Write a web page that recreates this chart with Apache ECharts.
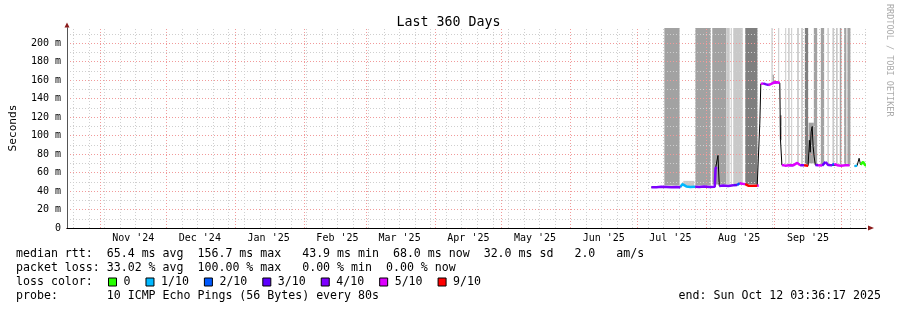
<!DOCTYPE html>
<html><head><meta charset="utf-8">
<script src="https://cdn.jsdelivr.net/npm/echarts@6/dist/echarts.min.js"></script>
<style>html,body{margin:0;padding:0;background:#fff}#c{width:897px;height:310px}</style>
</head><body><div id="c"></div>
<script>
const FONT = 'DejaVu Sans Mono';
const titleText = 'Last 360 Days';
const rangeStart = '2024-10-17 03:36:17';
const rangeEnd = '2025-10-12 03:36:17';
const yMax = 216.5;
const yStep = 10;
const yLabelStep = 20;

const monthStarts = ['2024-11-01','2024-12-01','2025-01-01','2025-02-01','2025-03-01','2025-04-01','2025-05-01','2025-06-01','2025-07-01','2025-08-01','2025-09-01','2025-10-01'];
const monthLabelDates = ['2024-11-16','2024-12-16','2025-01-16','2025-02-16','2025-03-16','2025-04-16','2025-05-16','2025-06-16','2025-07-16','2025-08-16','2025-09-16'];
const monthLabels = ["Nov '24","Dec '24","Jan '25","Feb '25","Mar '25","Apr '25","May '25","Jun '25","Jul '25","Aug '25","Sep '25"];
const weekAnchor = '2024-10-20';
const weekDays = 7;

const lossNames = ['0','1/10','2/10','3/10','4/10','5/10','9/10'];
const lossColors = ['#26ff00','#00b8ff','#0059ff','#5e00ff','#7e00ff','#dd00ff','#ff0000'];

const medianTime = ['2025-07-07 10:30','2025-07-09 16:30','2025-07-11 22:30','2025-07-12 20:00','2025-07-14 04:30','2025-07-16 10:30','2025-07-18 16:30','2025-07-20 11:45',
'2025-07-21 09:30','2025-07-22 07:00','2025-07-23 04:30','2025-07-25 00:00','2025-07-27 05:45',
'2025-07-29 01:00','2025-07-31 07:00','2025-08-02 13:00','2025-08-05 00:15','2025-08-05 09:00','2025-08-05 22:00','2025-08-06 11:00','2025-08-07 01:00',
'2025-08-08 20:00','2025-08-11 02:00','2025-08-13 08:00','2025-08-15 03:00','2025-08-16 06:00','2025-08-17 09:00','2025-08-18 18:00',
'2025-08-20 02:00','2025-08-21 21:00','2025-08-24 03:00','2025-08-24 19:30','2025-08-25 07:30','2025-08-25 18:00',
'2025-08-26 20:00','2025-08-28 04:30','2025-08-29 07:30','2025-08-30 10:30','2025-08-31 19:00','2025-09-02 03:30','2025-09-03 07:30','2025-09-03 15:00','2025-09-04 06:00',
'2025-09-05 18:00','2025-09-07 13:00','2025-09-09 08:00','2025-09-11 03:30','2025-09-12 12:00','2025-09-14 07:00','2025-09-15 04:30','2025-09-16 02:00',
'2025-09-16 15:00','2025-09-17 00:00','2025-09-17 10:30','2025-09-17 21:30','2025-09-18 08:00','2025-09-18 19:00','2025-09-19 08:00',
'2025-09-20 14:00','2025-09-22 09:30','2025-09-23 23:00','2025-09-25 02:00','2025-09-26 21:30','2025-09-27 19:00','2025-09-29 03:30','2025-09-30 22:30','2025-10-02 18:00','2025-10-04 18:00',
'2025-10-05 12:00',
'2025-10-07 00:00','2025-10-08 03:30','2025-10-09 01:00','2025-10-09 17:00','2025-10-10 20:00','2025-10-11 18:00','2025-10-12 03:00'];
const medianValue = [44.2,44.0,44.6,46.0,44.3,44.0,44.5,44.2,
47.5,48.0,45.0,44.3,44.6,
44.4,44.8,44.3,44.6,64.7,66.0,78.5,45.5,
46.0,45.5,46.2,46.5,48.5,48.0,47.5,
45.8,45.6,45.8,46.0,113.5,156.0,
156.5,155.5,154.8,156.0,157.5,157.8,157.0,95.5,68.2,
67.5,68.0,67.8,70.5,68.0,67.8,67.5,67.5,
95.0,82.0,104.0,110.0,88.0,77.0,68.2,
68.0,67.6,71.5,68.2,67.8,69.5,68.0,67.5,67.8,68.0,
null,
67.0,67.5,75.5,68.5,71.5,68.0,68.0];
const medianLoss = [4,4,4,4,4,4,4,4,
1,1,1,1,1,
4,4,4,4,4,4,4,4,
4,4,4,3,2,5,5,
6,6,6,5,5,4,
5,4,4,5,5,4,5,4,5,
5,5,4,5,5,4,6,6,
4,4,3,4,4,3,2,
4,5,3,4,4,2,5,5,5,5,
5,
1,1,1,0,0,0,0];

const smokeShades = ['#c9c9c9','#a2a2a2','#7f7f7f'];
const smokeStart = ['2025-07-13 07:00','2025-07-21 20:00','2025-07-27 06:00','2025-08-03 21:00','2025-08-10 04:30','2025-08-12 05:00','2025-08-13 08:00','2025-08-18 18:00',
'2025-08-30 13:00','2025-08-31 02:00','2025-09-02 14:00','2025-09-03 07:30','2025-09-05 18:00','2025-09-07 02:00','2025-09-08 10:30','2025-09-11 03:00','2025-09-12 22:30',
'2025-09-14 14:30','2025-09-16 07:30','2025-09-18 15:30','2025-09-21 19:00','2025-09-24 18:30','2025-09-27 00:30','2025-09-28 19:30','2025-09-30 08:30','2025-10-02 07:00','2025-10-03 18:30'];
const smokeEnd = ['2025-07-20 04:00','2025-07-26 19:00','2025-08-03 05:00','2025-08-10 04:30','2025-08-11 18:00','2025-08-12 16:00','2025-08-17 14:30','2025-08-24 06:30',
'2025-08-31 02:00','2025-08-31 16:00','2025-09-03 01:00','2025-09-04 05:00','2025-09-06 02:00','2025-09-07 18:00','2025-09-08 19:00','2025-09-11 21:30','2025-09-13 17:00',
'2025-09-16 02:00','2025-09-18 15:30','2025-09-20 03:30','2025-09-23 07:00','2025-09-25 09:30','2025-09-27 19:00','2025-09-29 06:30','2025-10-01 01:30','2025-10-03 07:30','2025-10-05 03:00'];
const smokeLow = [46,45.5,46,47,47,47,47,47,
157,157,157,95,69,69,69,69,69,
69,70,69,69,69,69,69,69,69,69];
const smokeHigh = [216.5,51,216.5,216.5,216.5,216.5,216.5,216.5,
216.5,166,216.5,122,216.5,216.5,216.5,216.5,216.5,
216.5,114,216.5,216.5,216.5,216.5,216.5,216.5,216.5,216.5];
const smokeShade = [1,0,1,1,0,0,0,2,
0,1,0,1,0,0,0,0,0,
2,1,1,1,0,0,1,1,1,1];

const statLines = [
  'median rtt:  65.4 ms avg  156.7 ms max   43.9 ms min  68.0 ms now  32.0 ms sd   2.0   am/s',
  'packet loss: 33.02 % avg  100.00 % max   0.00 % min  0.00 % now',
  'loss color:',
  'probe:       10 ICMP Echo Pings (56 Bytes) every 80s'
];
const endText = 'end: Sun Oct 12 03:36:17 2025';
const creditText = 'RRDTOOL / TOBI OETIKER';

function ts(s){
  const parts = s.split(' ');
  const [Y,M,D] = parts[0].split('-').map(Number);
  const [h=0,m=0,sec=0] = (parts[1]||'0:0:0').split(':').map(Number);
  return Date.UTC(Y,M-1,D,h,m,sec);
}
const xMin = ts(rangeStart), xMax = ts(rangeEnd);
const RED = '#f19a9a', GRAY = '#cfcfcf';

const weeks = [];
for (let t = ts(weekAnchor); t < xMax; t += weekDays*86400000) if (t > xMin) weeks.push(t);
const labelValues = monthLabelDates.map(ts);
const labelMap = {};
labelValues.forEach((v,i)=>{ labelMap[v] = monthLabels[i]; });

const n = medianTime.length;
const segColor = [];
for (let i=0;i<n-1;i++){
  const a = medianValue[i], b = medianValue[i+1];
  segColor[i] = (a!=null && b!=null && Math.abs(b-a) < 4) ? medianLoss[i+1] : -1;
}
const lossSeries = lossNames.map((name,L)=>({
  type:'line', name, color: lossColors[L], symbol:'none', z:4, connectNulls:false,
  lineStyle:{width:2.5, color: lossColors[L]},
  data: medianTime.map((t,i)=>[ts(t), (medianValue[i]!=null && ((i>0 && segColor[i-1]===L) || (i<n-1 && segColor[i]===L))) ? medianValue[i] : '-'])
}));

const smokeData = smokeStart.map((s,i)=>[ts(s), ts(smokeEnd[i]), smokeLow[i], smokeHigh[i], smokeShade[i]]);

const chart = echarts.init(document.getElementById('c'), null, {renderer:'canvas'});
const txt = (text, x, y, extra) => ({type:'text', x, y, silent:true, style: Object.assign({text, fontFamily:FONT, fontSize:11.6, fill:'#000', verticalAlign:'middle'}, extra||{})});

chart.setOption({
  animation:false,
  backgroundColor:'#fff',
  title:{text:titleText, left:'center', top:11, textStyle:{fontFamily:FONT, fontSize:13.3, fontWeight:'normal', color:'#000'}},
  grid:{left:66, right:31, top:28, bottom:82, containLabel:false},
  legend:{left:108, top:275, padding:0, icon:'rect', itemWidth:8, itemHeight:8, itemGap:15, selectedMode:false,
    itemStyle:{borderColor:'#000', borderWidth:1},
    textStyle:{fontFamily:FONT, fontSize:11.6, color:'#000', padding:[0,0,0,2], lineHeight:14},
    data: lossNames},
  xAxis:[{
    type:'value', min:xMin, max:xMax, z:2, scale:true,
    axisLine:{show:true, onZero:false, lineStyle:{color:'#000', width:1}},
    axisTick:{show:false},
    splitLine:{show:false},
    axisLabel:{customValues: labelValues, margin:5, fontFamily:FONT, fontSize:10, color:'#000',
      formatter:(v)=> labelMap[v] || '', hideOverlap:false}
  },{
    type:'value', min:0, max:1, position:'bottom', z:1,
    axisLine:{show:true, onZero:false, symbol:['none','triangle'], symbolSize:[5,6], symbolOffset:[0,5], lineStyle:{color:'#8b1c1c'}},
    axisTick:{show:false}, axisLabel:{show:false}, splitLine:{show:false}
  }],
  yAxis:[{
    type:'value', min:0, max:yMax, interval:yStep, z:2,
    name:'Seconds', nameLocation:'middle', nameGap:48, nameRotate:90,
    nameTextStyle:{fontFamily:FONT, fontSize:11.2, color:'#000'},
    axisLine:{show:true, onZero:false, lineStyle:{color:'#555', width:1}},
    axisTick:{show:false},
    axisLabel:{margin:6, fontFamily:FONT, fontSize:10, color:'#000', showMaxLabel:false,
      formatter:(v)=> (Math.abs(v % yLabelStep) < 1e-6) ? (v===0 ? '0' : v + ' m') : ''},
    splitLine:{show:true, showMinLine:false, showMaxLine:false, lineStyle:{color:[GRAY, RED], type:[1,2], width:1}}
  },{
    type:'value', min:0, max:1, position:'left', z:1,
    axisLine:{show:true, onZero:false, symbol:['none','triangle'], symbolSize:[5,5], symbolOffset:[0,3], lineStyle:{color:'#8b1c1c'}},
    axisTick:{show:false}, axisLabel:{show:false}, splitLine:{show:false}
  }],
  graphic:[
    txt(statLines[0], 16, 254),
    txt(statLines[1], 16, 268),
    txt(statLines[2], 16, 282),
    txt(statLines[3], 16, 296),
    txt(endText, 881, 296, {align:'right'}),
    {type:'text', x:889, y:4, rotation:-Math.PI/2, silent:true,
      style:{text:creditText, fontFamily:FONT, fontSize:8.5, fill:'#aaaaaa', align:'left', verticalAlign:'middle'}}
  ],
  series:[
    {type:'custom', name:'smoke', z:1, silent:true, clip:true,
     encode:{x:[0,1], y:[2,3]},
     renderItem:(params, api)=>{
       const p1 = api.coord([api.value(0), api.value(3)]);
       const p2 = api.coord([api.value(1), api.value(2)]);
       return {type:'rect', shape:{x:p1[0], y:p1[1], width:Math.max(1, p2[0]-p1[0]), height:p2[1]-p1[1]},
         style:{fill: smokeShades[api.value(4)]}};
     },
     data: smokeData},
    {type:'line', name:'median', symbol:'none', z:3, connectNulls:false,
     lineStyle:{color:'#000', width:1}, color:'#000',
     data: medianTime.map((t,i)=>[ts(t), medianValue[i]==null ? '-' : medianValue[i]]),
     markLine:{silent:true, symbol:['none','none'], z:2, animation:false,
       label:{show:false}, emphasis:{disabled:true},
       lineStyle:{type:[1,2], width:1},
       data: weeks.map(v=>({xAxis:v, lineStyle:{color:GRAY, type:[1,2], width:1}}))
         .concat(monthStarts.map(d=>({xAxis:ts(d), lineStyle:{color:RED, type:[1,2], width:1}})))}
    }
  ].concat(lossSeries)
});
</script></body></html>
